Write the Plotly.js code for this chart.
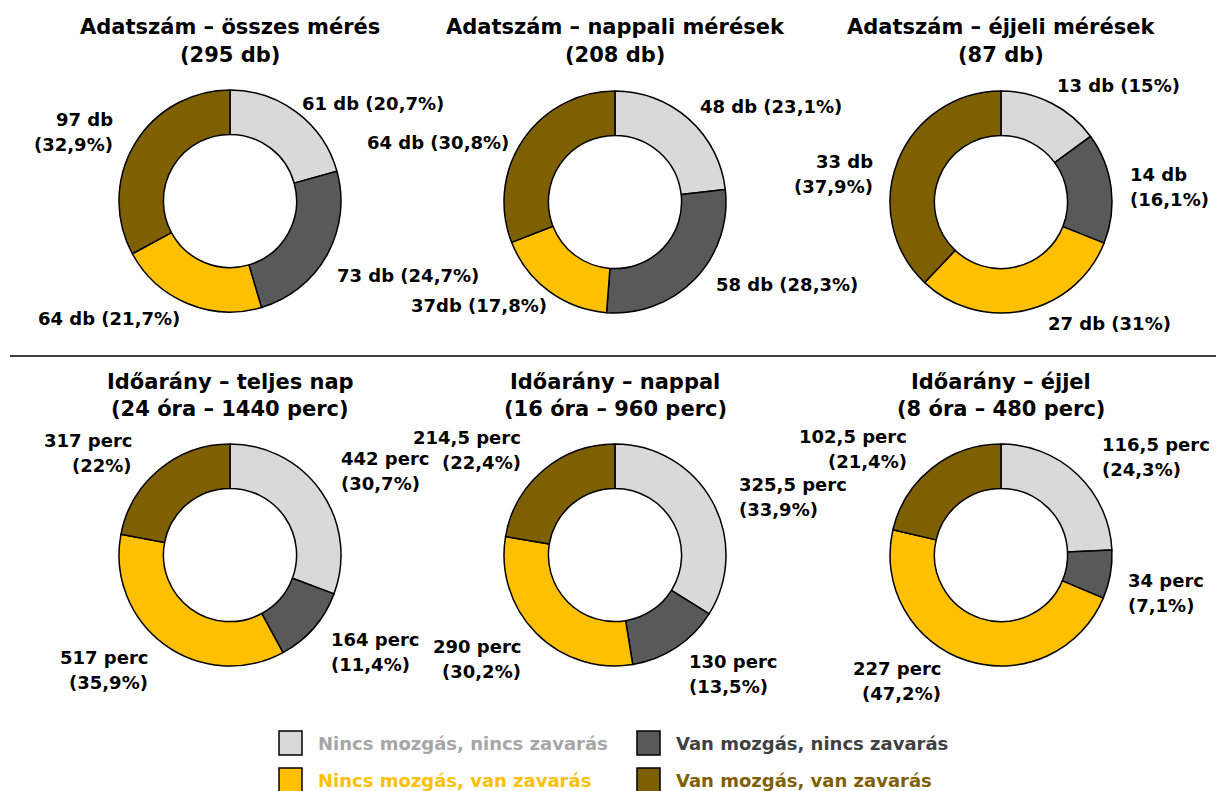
<!DOCTYPE html>
<html>
<head>
<meta charset="utf-8">
<script src="https://cdn.plot.ly/plotly-3.0.1.min.js"></script>
<style>html,body{margin:0;padding:0;background:#fff;}#chart{width:1216px;height:791px;}</style>
</head>
<body>
<div id="chart"></div>
<script>
// ---- data ----
var categories = ["Nincs mozgás, nincs zavarás", "Van mozgás, nincs zavarás", "Nincs mozgás, van zavarás", "Van mozgás, van zavarás"];
var colors = ["#d9d9d9", "#595959", "#ffc000", "#7f6000"];
var legendTextColors = ["#a6a6a6", "#404040", "#ffc000", "#7f6000"];

var titles = [
  ["Adatszám – összes mérés", "(295 db)"],
  ["Adatszám – nappali mérések", "(208 db)"],
  ["Adatszám – éjjeli mérések", "(87 db)"],
  ["Időarány – teljes nap", "(24 óra – 1440 perc)"],
  ["Időarány – nappal", "(16 óra – 960 perc)"],
  ["Időarány – éjjel", "(8 óra – 480 perc)"]
];

var valuesAll = [61, 73, 64, 97];
var valuesDay = [48, 58, 37, 64];
var valuesNight = [13, 14, 27, 33];
var minutesFull = [442, 164, 517, 317];
var minutesDay = [325.5, 130, 290, 214.5];
var minutesNight = [116.5, 34, 227, 102.5];

var labelsAll = ["61 db (20,7%)", "73 db (24,7%)", "64 db (21,7%)", "97 db<br>(32,9%)"];
var labelsDay = ["48 db (23,1%)", "58 db (28,3%)", "37db (17,8%)", "64 db (30,8%)"];
var labelsNight = ["13 db (15%)", "14 db<br>(16,1%)", "27 db (31%)", "33 db<br>(37,9%)"];
var labelsFull = ["442 perc<br>(30,7%)", "164 perc<br>(11,4%)", "517 perc<br>(35,9%)", "317 perc<br>(22%)"];
var labelsDayMin = ["325,5 perc<br>(33,9%)", "130 perc<br>(13,5%)", "290 perc<br>(30,2%)", "214,5 perc<br>(22,4%)"];
var labelsNightMin = ["116,5 perc<br>(24,3%)", "34 perc<br>(7,1%)", "227 perc<br>(47,2%)", "102,5 perc<br>(21,4%)"];

var series = [valuesAll, valuesDay, valuesNight, minutesFull, minutesDay, minutesNight];
var labelSets = [labelsAll, labelsDay, labelsNight, labelsFull, labelsDayMin, labelsNightMin];

// ---- layout helpers (pixel -> paper) ----
var W = 1216, H = 791;
function px(x){ return x / W; }
function py(y){ return 1 - y / H; }

var centers = [[230, 201], [615, 202], [1001, 202], [230, 555], [615, 555], [1001, 555]];
var R = 111;
var titleY = [[27, 55], [27, 55], [27, 55], [382, 409], [382, 409], [382, 409]];

// label positions: [x, y, anchor]
var labelPos = [
  [[300, 103, "left"], [335, 275, "left"], [36, 318, "left"], [115, 132, "right"]],
  [[698, 107, "left"], [714, 284, "left"], [409, 305, "left"], [365, 143, "left"]],
  [[1055, 85, "left"], [1128, 187, "left"], [1046, 323, "left"], [875, 174, "right"]],
  [[339, 471, "left"], [329, 652, "left"], [150, 670, "right"], [134, 453, "right"]],
  [[737, 497, "left"], [687, 674, "left"], [523, 659, "right"], [523, 450, "right"]],
  [[1100, 457, "left"], [1126, 593, "left"], [943, 681, "right"], [909, 449, "right"]]
];
var lineGap = 25;

var font = "DejaVu Sans, Verdana, sans-serif";
var data = [];
var annotations = [];
var shapes = [];

for (var i = 0; i < 6; i++) {
  var c = centers[i];
  data.push({
    type: "pie",
    values: series[i],
    labels: categories,
    sort: false,
    direction: "clockwise",
    rotation: 0,
    hole: 0.6,
    textinfo: "none",
    hoverinfo: "label+value",
    showlegend: false,
    marker: { colors: colors, line: { color: "#000000", width: 1.5 } },
    domain: { x: [px(c[0] - R), px(c[0] + R)], y: [py(c[1] + R), py(c[1] - R)] }
  });
  for (var t = 0; t < 2; t++) {
    annotations.push({
      xref: "paper", yref: "paper", x: px(c[0]), y: py(titleY[i][t]),
      xanchor: "center", yanchor: "middle", showarrow: false,
      text: "<b>" + titles[i][t] + "</b>",
      font: { family: font, size: 21, color: "#000000" }
    });
  }
  for (var k = 0; k < 4; k++) {
    var p = labelPos[i][k];
    var lines = labelSets[i][k].split("<br>");
    for (var m = 0; m < lines.length; m++) {
      var yy = p[1] + (m - (lines.length - 1) / 2) * lineGap;
      annotations.push({
        xref: "paper", yref: "paper", x: px(p[0]), y: py(yy),
        xanchor: p[2], yanchor: "middle", align: p[2], showarrow: false,
        text: "<b>" + lines[m] + "</b>",
        font: { family: font, size: 18, color: "#000000" }
      });
    }
  }
}

// divider line
shapes.push({ type: "line", xref: "paper", yref: "paper", x0: px(10), x1: px(1216), y0: py(356), y1: py(356), line: { color: "#000000", width: 1.5 } });

// legend
var legPos = [[279, 743], [637, 743], [279, 780], [637, 780]];
for (var j = 0; j < 4; j++) {
  var lp = legPos[j];
  shapes.push({ type: "rect", xref: "paper", yref: "paper",
    x0: px(lp[0]), x1: px(lp[0] + 23), y0: py(lp[1] + 12), y1: py(lp[1] - 12),
    fillcolor: colors[j], line: { color: "#000000", width: 1.5 } });
  annotations.push({
    xref: "paper", yref: "paper", x: px(lp[0] + 37), y: py(lp[1]),
    xanchor: "left", yanchor: "middle", showarrow: false,
    text: "<b>" + categories[j] + "</b>",
    font: { family: font, size: 18, color: legendTextColors[j] }
  });
}

var layout = {
  width: W, height: H,
  margin: { l: 0, r: 0, t: 0, b: 0 },
  paper_bgcolor: "#ffffff", plot_bgcolor: "#ffffff",
  showlegend: false,
  annotations: annotations,
  shapes: shapes
};

Plotly.newPlot("chart", data, layout, { displayModeBar: false, staticPlot: true });
</script>
</body>
</html>
